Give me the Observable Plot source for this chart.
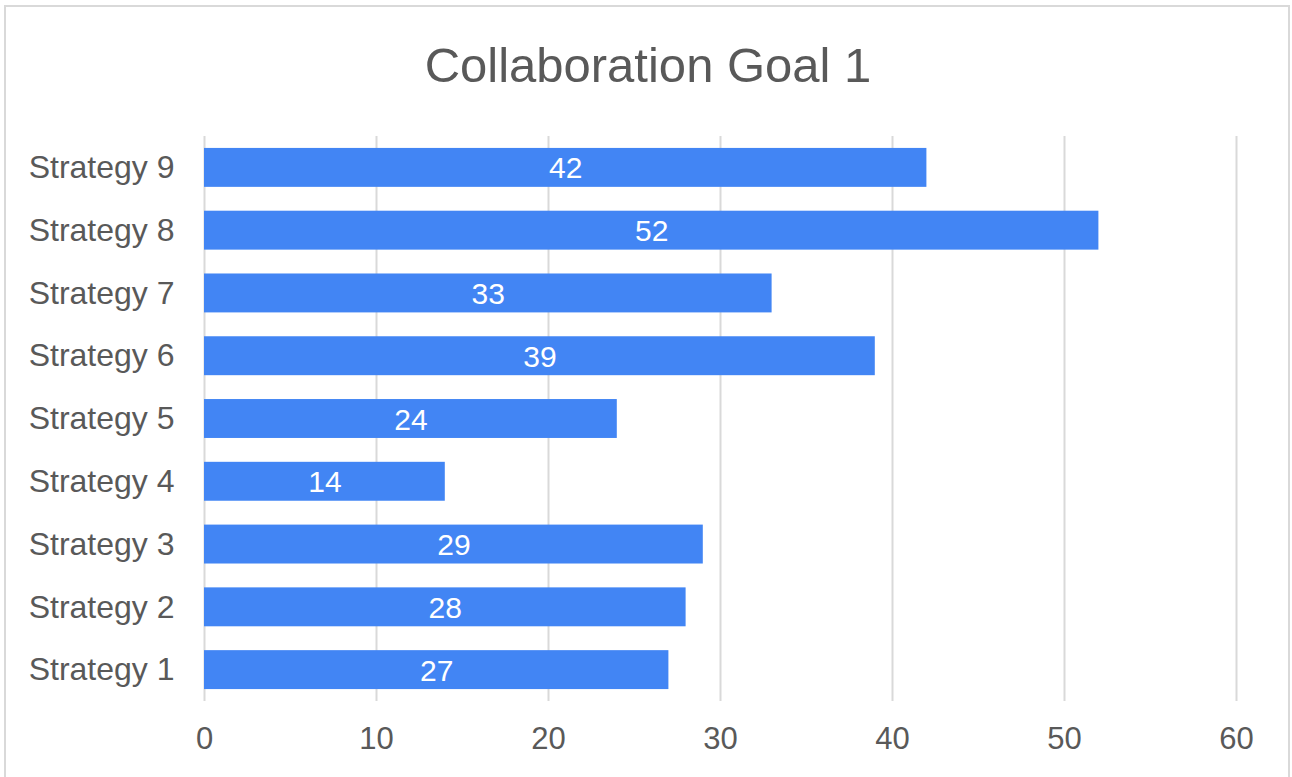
<!DOCTYPE html>
<html>
<head>
<meta charset="utf-8">
<script src="https://cdn.jsdelivr.net/npm/d3@7"></script>
<script src="https://cdn.jsdelivr.net/npm/@observablehq/plot@0.6"></script>
<style>
  html, body { margin: 0; padding: 0; background: #fff; }
  #wrap { position: relative; width: 1292px; height: 777px; overflow: hidden; font-family: "Liberation Sans", Arial, sans-serif; }
  #frame { position: absolute; left: 4px; top: 5px; width: 1286px; height: 800px; border: 2px solid #d9d9d9; box-sizing: border-box; }
  #title { position: absolute; left: 2px; top: 41px; width: 1292px; text-align: center; font-size: 49px; line-height: 49px; color: #595959; }
  #chart { position: absolute; left: 0; top: 120px; }
</style>
</head>
<body>
<div id="wrap">
  <div id="frame"></div>
  <div id="title">Collaboration Goal 1</div>
  <div id="chart"></div>
</div>
<script>
const categories = ["Strategy 1", "Strategy 2", "Strategy 3", "Strategy 4", "Strategy 5", "Strategy 6", "Strategy 7", "Strategy 8", "Strategy 9"];
const values = [27, 28, 29, 14, 24, 39, 33, 52, 42];
const xTicks = [0, 10, 20, 30, 40, 50, 60];

const data = categories.map((c, i) => ({category: c, value: values[i]}));

const chart = Plot.plot({
  width: 1292,
  height: 657,
  marginTop: 16,
  marginBottom: 76,
  marginLeft: 204,
  marginRight: 56,
  style: {fontFamily: "Liberation Sans, Arial, sans-serif", color: "#595959", background: "transparent"},
  x: {domain: [0, 60], ticks: xTicks},
  y: {domain: categories.slice().reverse(), paddingInner: 0.38, paddingOuter: 0.19, round: false},
  marks: [
    Plot.gridX(xTicks, {stroke: "#d9d9d9", strokeOpacity: 1, strokeWidth: 2}),
    Plot.barX(data, {x: "value", y: "category", fill: "#4285F4"}),
    Plot.text(data, {x: d => d.value / 2, y: "category", text: d => String(d.value), fill: "white", fontSize: 30, dy: 1}),
    Plot.axisX({ticks: xTicks, tickSize: 0, tickPadding: 25, fontSize: 31, fill: "#595959", label: null}),
    Plot.axisY({tickSize: 0, tickPadding: 30, fontSize: 32, fill: "#595959", label: null})
  ]
});
document.getElementById("chart").appendChild(chart);
</script>
</body>
</html>
